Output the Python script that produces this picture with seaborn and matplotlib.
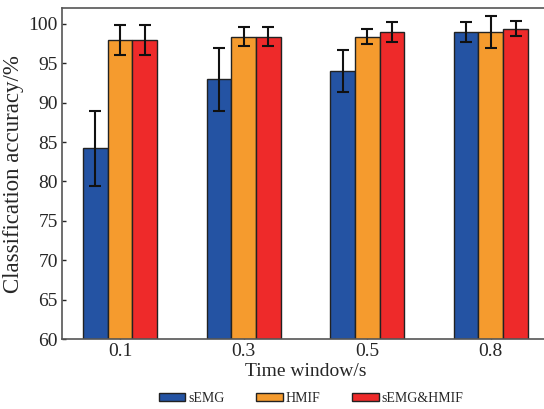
import numpy as np
import pandas as pd
import matplotlib
matplotlib.use("Agg")
import matplotlib.pyplot as plt
import seaborn as sns

# Classification accuracy (%) per time window and feature set
windows = ["0.1", "0.3", "0.5", "0.8"]
methods = ["sEMG", "HMIF", "sEMG&HMIF"]
semg_mean = [84.2, 93.0, 94.0, 99.0]
semg_err = [4.8, 4.0, 2.7, 1.25]
hmif_mean = [98.0, 98.4, 98.4, 99.0]
hmif_err = [1.9, 1.25, 1.0, 2.0]
fused_mean = [98.0, 98.4, 99.0, 99.4]
fused_err = [1.9, 1.25, 1.25, 0.95]

colors = ["#2453A3", "#F59B2E", "#EE2A2A"]

means = [semg_mean, hmif_mean, fused_mean]
errs = [semg_err, hmif_err, fused_err]
df = pd.DataFrame({
    "window": np.tile(windows, len(methods)),
    "method": np.repeat(methods, len(windows)),
    "acc": np.concatenate(means),
})

sns.set_style("ticks")
plt.rcParams["font.family"] = ["Liberation Serif", "DejaVu Serif"]

fig = plt.figure(figsize=(5.44, 4.09), dpi=100)
ax = fig.add_axes([0.114, 0.171, 0.895, 0.809])

sns.barplot(data=df, x="window", y="acc", hue="method", order=windows,
            hue_order=methods, palette=colors, width=0.6, errorbar=None,
            edgecolor="#222222", linewidth=1.0, saturation=1, ax=ax,
            legend=True)

# error bars placed at the centre of each drawn bar
for cont, err in zip(ax.containers, errs):
    xs = [p.get_x() + p.get_width() / 2 for p in cont.patches]
    ys = [p.get_height() for p in cont.patches]
    ax.errorbar(xs, ys, yerr=err, fmt="none", ecolor="#111111",
                elinewidth=1.5, capsize=4.3, capthick=1.5, zorder=5)

ax.set_ylim(60, 102)
ax.set_xlim(-0.47, 3.47)
ax.set_yticks(range(60, 101, 5))
ax.set_xlabel("Time window/s", fontsize=14, labelpad=2)
ax.set_ylabel("Classification accuracy/%", fontsize=16.5, labelpad=3)
ax.tick_params(direction="in", length=3, width=1, labelsize=14, pad=3)

for s in ax.spines.values():
    s.set_color("#555555")
    s.set_linewidth(1.2)
ax.spines["right"].set_visible(False)

ax.get_legend().remove()
handles, labels = ax.get_legend_handles_labels()
fig.legend(handles[:3], labels[:3], loc="center", ncol=3,
           bbox_to_anchor=(0.572, 0.026), frameon=False, fontsize=10,
           handlelength=1.9, handleheight=0.6, handletextpad=0.2,
           columnspacing=2.3)

fig.savefig("out.png", dpi=100)
